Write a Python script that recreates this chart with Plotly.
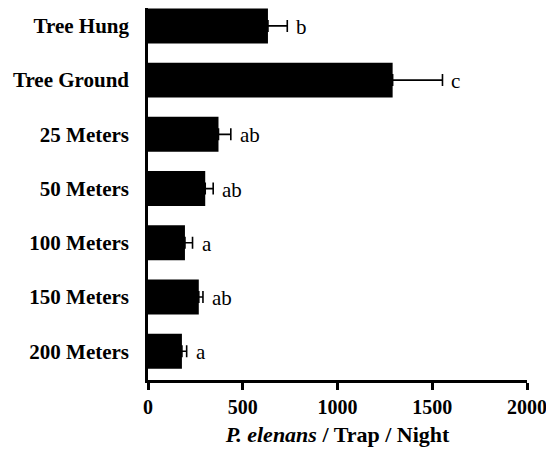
import plotly.graph_objects as go

categories = ["Tree Hung", "Tree Ground", "25 Meters", "50 Meters", "100 Meters", "150 Meters", "200 Meters"]
means = [633, 1291, 372, 302, 195, 268, 179]
sems = [102, 263, 65, 42, 40, 22, 25]
letters = ["b", "c", "ab", "ab", "a", "ab", "a"]
x_ticks = [0, 500, 1000, 1500, 2000]

FONT = "Liberation Serif"

fig = go.Figure()
fig.add_trace(go.Bar(
    y=categories, x=means, orientation="h",
    marker=dict(color="black", line=dict(width=0)),
    width=0.645,
    error_x=dict(type="data", array=sems, symmetric=False, arrayminus=[0]*len(sems),
                 color="black", thickness=1.6, width=6),
    hoverinfo="skip",
))

for cat, m, s, l in zip(categories, means, sems, letters):
    fig.add_annotation(x=m + s, y=cat, text=l, showarrow=False, xanchor="left",
                       xshift=7, yshift=-1, font=dict(family=FONT, size=21, color="black"))

fig.update_layout(
    width=546, height=450,
    margin=dict(l=148, r=19, t=8, b=70),
    paper_bgcolor="white", plot_bgcolor="white",
    showlegend=False,
    font=dict(family=FONT, size=20, color="black"),
)
fig.update_xaxes(
    range=[0, 2000], tickvals=x_ticks, ticktext=[f"<b>{v}</b>" for v in x_ticks],
    tickfont=dict(family=FONT, size=20), ticklabeloverflow="allow",
    showline=True, linecolor="black", linewidth=3,
    ticks="outside", ticklen=7, tickwidth=3, tickcolor="black",
    showgrid=False, zeroline=False, automargin=False,
    title=dict(text="<b><i>P. elenans</i> / Trap / Night</b>", font=dict(family=FONT, size=22), standoff=10),
)
fig.update_yaxes(
    range=[6.53, -0.33],
    tickvals=categories, ticktext=[f"<b>{c}</b>" for c in categories],
    tickfont=dict(family=FONT, size=21),
    showline=True, linecolor="black", linewidth=2.5,
    ticks="", showgrid=False, zeroline=False, automargin=False,
    ticklabelstandoff=12,
)

fig.write_html("out.html", config={"displayModeBar": False},
               post_script="document.body.style.margin='0';")
